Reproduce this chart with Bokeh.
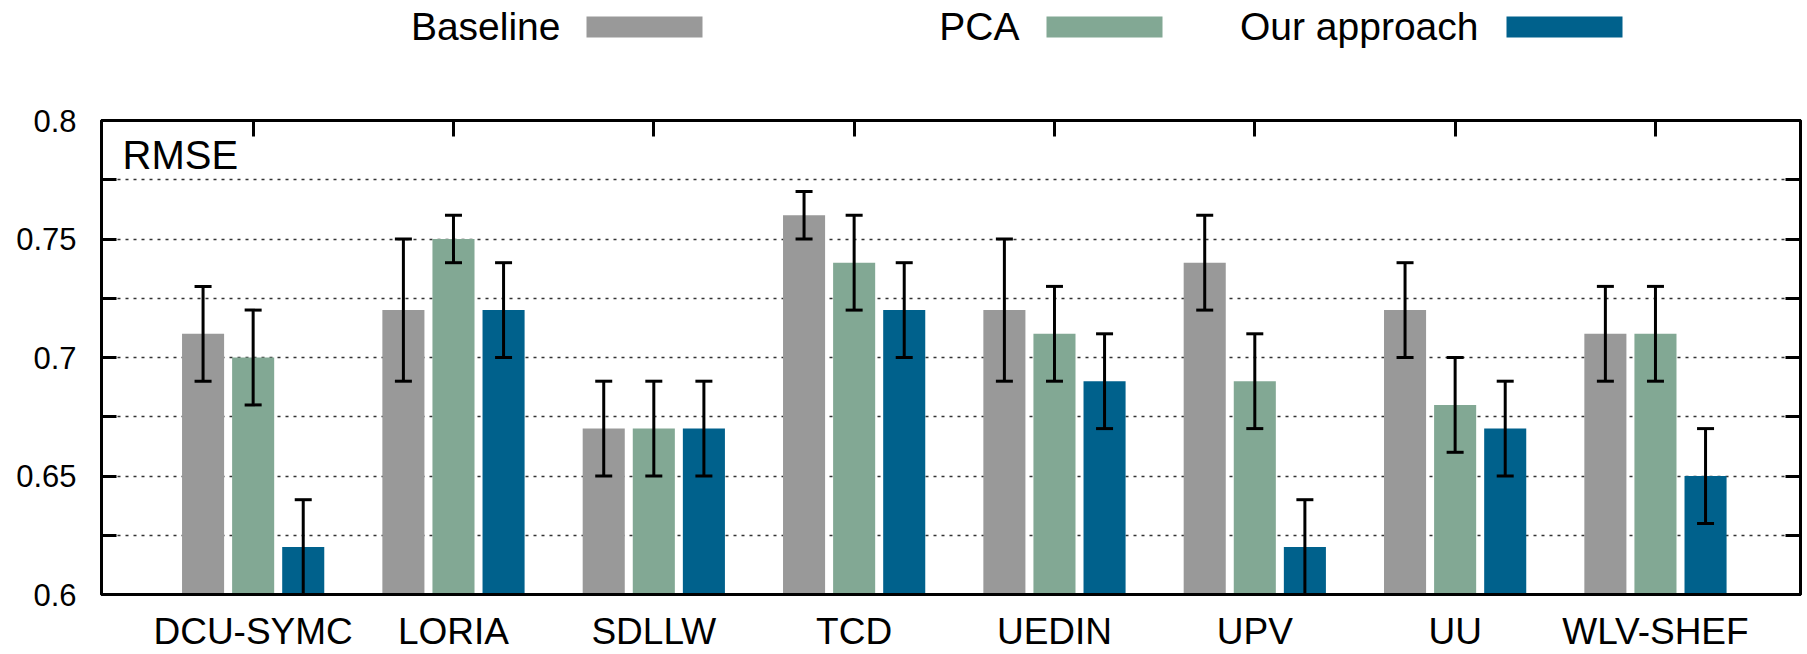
from bokeh.plotting import figure
from bokeh.models import (ColumnDataSource, Whisker, FixedTicker, Label, LinearAxis,
                          Range1d, TeeHead)
from bokeh.transform import dodge
from bokeh.layouts import column
from bokeh.embed import file_html
from bokeh.resources import INLINE

# ---------------- data ----------------
systems = ["DCU-SYMC", "LORIA", "SDLLW", "TCD", "UEDIN", "UPV", "UU", "WLV-SHEF"]
series = ["Baseline", "PCA", "Our approach"]
baseline = [0.71, 0.72, 0.67, 0.76, 0.72, 0.74, 0.72, 0.71]
baseline_err = [0.02, 0.03, 0.02, 0.01, 0.03, 0.02, 0.02, 0.02]
pca = [0.70, 0.75, 0.67, 0.74, 0.71, 0.69, 0.68, 0.71]
pca_err = [0.02, 0.01, 0.02, 0.02, 0.02, 0.02, 0.02, 0.02]
ours = [0.62, 0.72, 0.67, 0.72, 0.69, 0.62, 0.67, 0.65]
ours_err = [0.02, 0.02, 0.02, 0.02, 0.02, 0.02, 0.02, 0.02]
y_major = [0.6, 0.65, 0.7, 0.75, 0.8]
y_labels = ["0.6", "0.65", "0.7", "0.75", "0.8"]
y_minor = [0.625, 0.675, 0.725, 0.775]
colors = ["#999999", "#82a894", "#00618c"]

FONT = "Liberation Sans"

values = [baseline, pca, ours]
errors = [baseline_err, pca_err, ours_err]

W = 1807
LEG_H = 58
MAIN_H = 654 - LEG_H
FRAME_L, FRAME_R = 101, 1800

# ---------------- legend strip (frame aligned with main frame) ----------------
leg = figure(width=W, height=LEG_H, x_range=Range1d(FRAME_L, FRAME_R),
             y_range=Range1d(LEG_H, 0), output_backend="svg", toolbar_location=None,
             min_border=0)
leg.axis.visible = False
leg.grid.visible = False
leg.outline_line_color = None
text_right = [560 + 459 * i for i in range(len(series))]
box_center = [644 + 460 * i for i in range(len(series))]
leg.rect(x=box_center, y=[26.5] * len(series), width=116, height=21,
         color=colors, line_color=None)
for i, name in enumerate(series):
    leg.add_layout(Label(x=text_right[i], y=25.5, text=name, text_align="right",
                         text_baseline="middle", text_font=FONT,
                         text_font_size="39px", text_color="black"))

# ---------------- main chart ----------------
p = figure(width=W, height=MAIN_H, x_range=Range1d(-0.757, 7.724),
           y_range=Range1d(0.6, 0.8), output_backend="svg", toolbar_location=None,
           min_border_left=FRAME_L, min_border_right=W - FRAME_R,
           min_border_top=120 - LEG_H, min_border_bottom=58)
p.outline_line_color = "black"
p.outline_line_width = 3

idx = list(range(len(systems)))
offsets = [-0.25, 0.0, 0.25]
for k in range(3):
    src = ColumnDataSource(dict(
        idx=idx, top=values[k],
        lo=[v - e for v, e in zip(values[k], errors[k])],
        hi=[v + e for v, e in zip(values[k], errors[k])]))
    p.vbar(x=dodge("idx", offsets[k], range=p.x_range), top="top", bottom=0.5,
           width=0.21, source=src, fill_color=colors[k], line_color=None)
    p.add_layout(Whisker(base=dodge("idx", offsets[k], range=p.x_range),
                         lower="lo", upper="hi", source=src, line_color="black",
                         line_width=3, level="overlay",
                         upper_head=TeeHead(size=17, line_color="black", line_width=3),
                         lower_head=TeeHead(size=17, line_color="black", line_width=3)))

# x axis (bottom)
p.xaxis.ticker = FixedTicker(ticks=idx)
p.xaxis.major_label_overrides = {i: s for i, s in enumerate(systems)}
p.xaxis.major_tick_in = 0
p.xaxis.major_tick_out = 0
p.xaxis.minor_tick_in = 0
p.xaxis.minor_tick_out = 0
p.xaxis.major_label_standoff = 16
p.xaxis.major_label_text_font = FONT
p.xaxis.major_label_text_font_size = "37px"
p.xaxis.major_label_text_color = "black"
p.xaxis.axis_line_width = 3
p.xaxis.axis_line_color = "black"

# y axis (left)
p.yaxis.ticker = FixedTicker(ticks=y_major, minor_ticks=y_minor)
p.yaxis.major_label_overrides = dict(zip(y_major, y_labels))
p.yaxis.major_tick_in = 15
p.yaxis.major_tick_out = 0
p.yaxis.minor_tick_in = 15
p.yaxis.minor_tick_out = 0
p.yaxis.major_tick_line_width = 3
p.yaxis.minor_tick_line_width = 3
p.yaxis.major_label_standoff = 25
p.yaxis.major_label_text_font = FONT
p.yaxis.major_label_text_font_size = "31px"
p.yaxis.major_label_text_color = "black"
p.yaxis.axis_line_width = 3
p.yaxis.axis_line_color = "black"

# mirrored axes (ticks only)
top_ax = LinearAxis(ticker=FixedTicker(ticks=idx), major_tick_in=16, major_tick_out=0,
                    minor_tick_in=0, minor_tick_out=0, major_tick_line_width=3,
                    axis_line_width=3, major_label_overrides={i: "" for i in idx},
                    major_label_standoff=0, major_label_text_font_size="10px")
p.add_layout(top_ax, "above")
right_ax = LinearAxis(ticker=FixedTicker(ticks=y_major, minor_ticks=y_minor),
                      major_tick_in=15, major_tick_out=0, minor_tick_in=15, minor_tick_out=0,
                      major_tick_line_width=3, minor_tick_line_width=3, axis_line_width=3,
                      major_label_overrides={v: "" for v in y_major},
                      major_label_standoff=0, major_label_text_font_size="10px")
p.add_layout(right_ax, "right")

# grid
p.xgrid.visible = False
p.ygrid.ticker = FixedTicker(ticks=y_major, minor_ticks=y_minor)
p.ygrid.grid_line_color = "#333333"
p.ygrid.grid_line_dash = "3 5"
p.ygrid.grid_line_width = 1.3
p.ygrid.minor_grid_line_color = "#333333"
p.ygrid.minor_grid_line_dash = "3 5"
p.ygrid.minor_grid_line_width = 1.3

p.add_layout(Label(x=-0.757, y=0.8, x_offset=21, y_offset=-12, text="RMSE",
                   text_baseline="top", text_font=FONT, text_font_size="40px",
                   text_color="black"))

layout = column(leg, p, spacing=0)
open("out.html", "w").write(file_html(layout, INLINE))
